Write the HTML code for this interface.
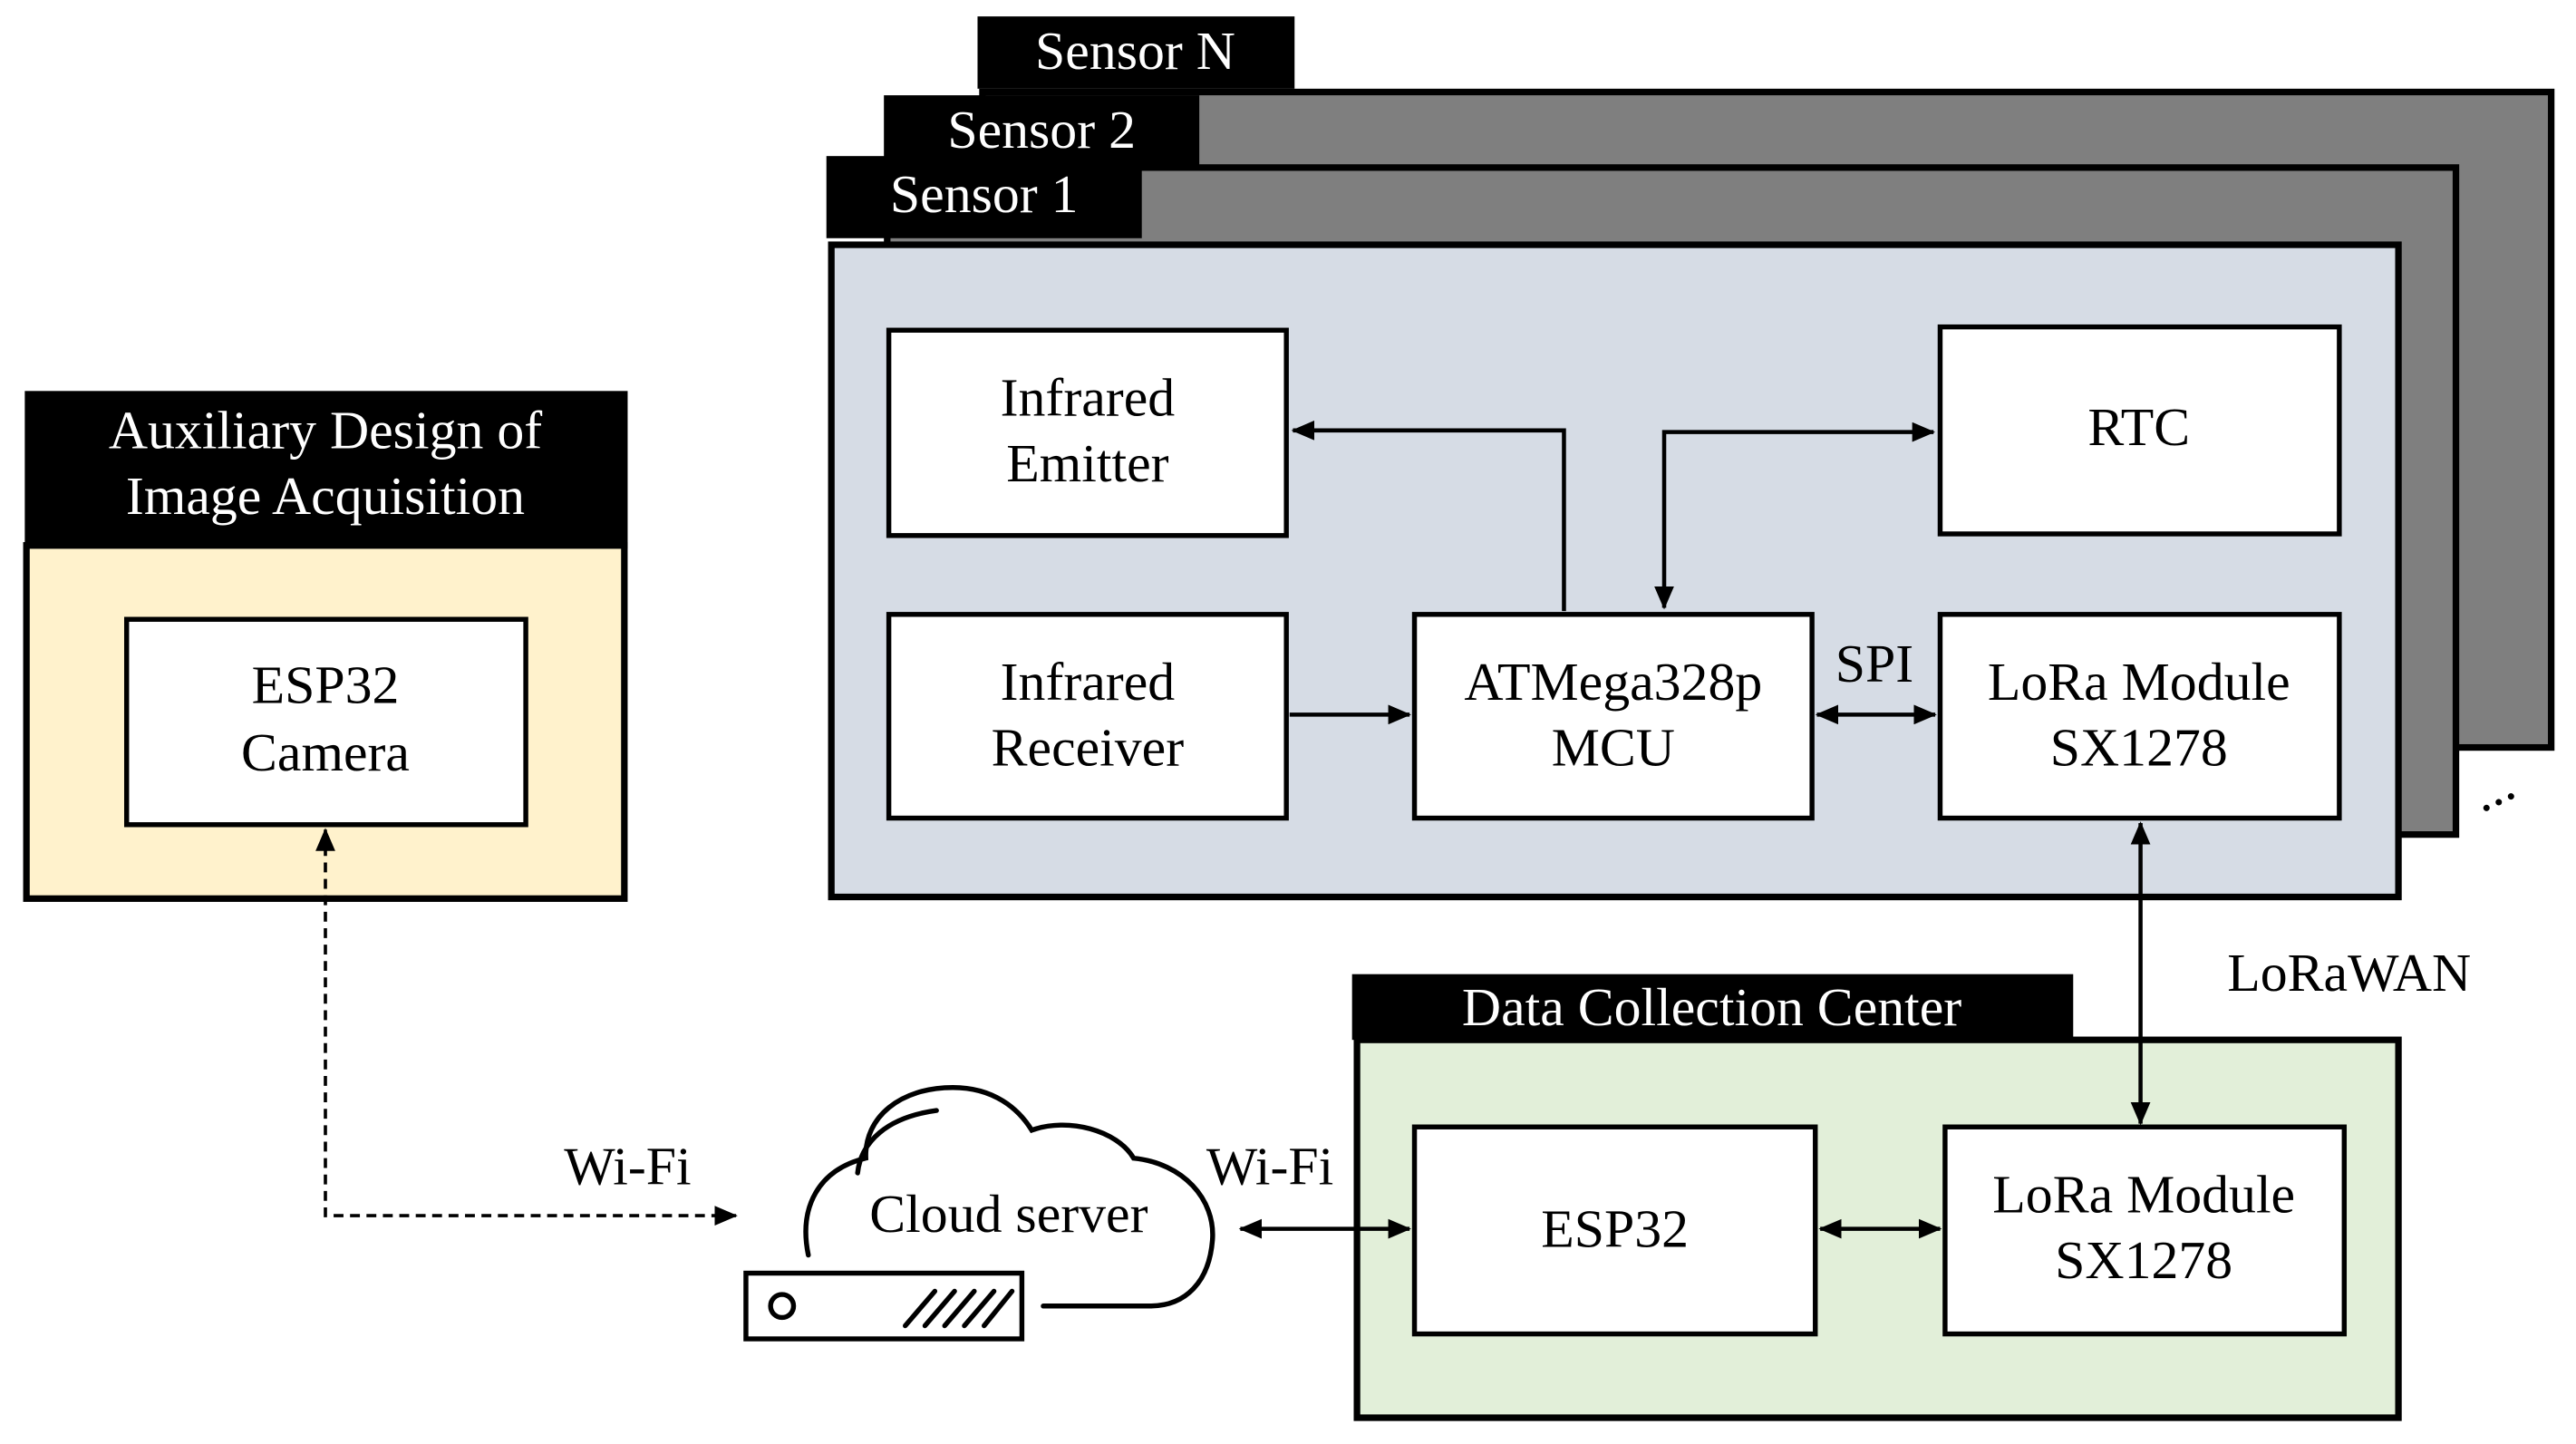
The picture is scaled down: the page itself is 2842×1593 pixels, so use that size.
<!DOCTYPE html>
<html><head><meta charset="utf-8"><style>
html,body{margin:0;padding:0;background:#fff;}
svg{display:block;}
text{font-family:"Liberation Serif",serif;font-size:33px;}
</style></head><body>
<svg width="2842" height="1593" viewBox="0 0 1568 879" xmlns="http://www.w3.org/2000/svg">
<defs>
<marker id="b" markerWidth="14" markerHeight="12" refX="13" refY="6" orient="auto-start-reverse" markerUnits="userSpaceOnUse"><path d="M0,0 L14,6 L0,12 z" fill="#000"/></marker>
</defs>
<!-- Sensor N -->
<rect x="598" y="56" width="955" height="399" fill="#7f7f7f" stroke="#000" stroke-width="4"/>
<rect x="595" y="10" width="193" height="44" fill="#000"/>
<text x="691" y="42" fill="#fff" text-anchor="middle">Sensor N</text>
<!-- Sensor 2 -->
<rect x="540" y="102" width="955" height="406" fill="#7f7f7f" stroke="#000" stroke-width="4"/>
<rect x="538" y="58" width="192" height="44" fill="#000"/>
<text x="634" y="90" fill="#fff" text-anchor="middle">Sensor 2</text>
<text x="1520" y="490" font-size="30" text-anchor="middle" transform="rotate(-25 1520 486)">...</text>
<!-- Sensor 1 -->
<rect x="506" y="149" width="954" height="397" fill="#d6dce5" stroke="#000" stroke-width="4"/>
<rect x="503" y="95" width="192" height="50" fill="#000"/>
<text x="599" y="129" fill="#fff" text-anchor="middle">Sensor 1</text>
<g fill="#fff" stroke="#000" stroke-width="3">
<rect x="541" y="201" width="242" height="125"/>
<rect x="1181" y="199" width="243" height="126"/>
<rect x="541" y="374" width="242" height="124"/>
<rect x="861" y="374" width="242" height="124"/>
<rect x="1181" y="374" width="243" height="124"/>
</g>
<text x="662" y="253" text-anchor="middle">Infrared</text>
<text x="662" y="293" text-anchor="middle">Emitter</text>
<text x="1302" y="271" text-anchor="middle">RTC</text>
<text x="662" y="426" text-anchor="middle">Infrared</text>
<text x="662" y="466" text-anchor="middle">Receiver</text>
<text x="982" y="426" text-anchor="middle">ATMega328p</text>
<text x="982" y="466" text-anchor="middle">MCU</text>
<text x="1302" y="426" text-anchor="middle">LoRa Module</text>
<text x="1302" y="466" text-anchor="middle">SX1278</text>
<g stroke="#000" stroke-width="2.5" fill="none">
<polyline points="952,372 952,262 787,262" marker-end="url(#b)"/>
<polyline points="1013,370 1013,263 1177,263" marker-start="url(#b)" marker-end="url(#b)"/>
<line x1="785" y1="435" x2="858" y2="435" marker-end="url(#b)"/>
<line x1="1106" y1="435" x2="1178" y2="435" marker-start="url(#b)" marker-end="url(#b)"/>
</g>
<text x="1141" y="415" text-anchor="middle">SPI</text>
<text x="1430" y="603" text-anchor="middle">LoRaWAN</text>
<!-- Data collection -->
<rect x="826" y="633" width="634" height="230" fill="#e2efd9" stroke="#000" stroke-width="4"/>
<rect x="823" y="593" width="439" height="40" fill="#000"/>
<text x="1042" y="624" fill="#fff" text-anchor="middle">Data Collection Center</text>
<g fill="#fff" stroke="#000" stroke-width="3">
<rect x="861" y="686" width="244" height="126"/>
<rect x="1184" y="686" width="243" height="126"/>
</g>
<text x="983" y="759" text-anchor="middle">ESP32</text>
<text x="1305" y="738" text-anchor="middle">LoRa Module</text>
<text x="1305" y="778" text-anchor="middle">SX1278</text>
<g stroke="#000" stroke-width="2.5" fill="none">
<line x1="1303" y1="501" x2="1303" y2="684" marker-start="url(#b)" marker-end="url(#b)"/>
<line x1="1108" y1="748" x2="1181" y2="748" marker-start="url(#b)" marker-end="url(#b)"/>
<line x1="755" y1="748" x2="858" y2="748" marker-start="url(#b)" marker-end="url(#b)"/>
</g>
<!-- Auxiliary -->
<rect x="16" y="332" width="364" height="215" fill="#fff2cc" stroke="#000" stroke-width="4"/>
<rect x="15" y="238" width="367" height="96" fill="#000"/>
<text x="198" y="273" fill="#fff" text-anchor="middle">Auxiliary Design of</text>
<text x="198" y="313" fill="#fff" text-anchor="middle">Image Acquisition</text>
<rect x="77" y="377" width="243" height="125" fill="#fff" stroke="#000" stroke-width="3"/>
<text x="198" y="428" text-anchor="middle">ESP32</text>
<text x="198" y="469" text-anchor="middle">Camera</text>
<polyline points="198,505 198,740 448,740" fill="none" stroke="#000" stroke-width="2" stroke-dasharray="6,4" marker-start="url(#b)" marker-end="url(#b)"/>
<text x="382" y="721" text-anchor="middle">Wi-Fi</text>
<text x="773" y="721" text-anchor="middle">Wi-Fi</text>
<!-- Cloud -->
<g stroke="#000" stroke-width="3" fill="none" stroke-linecap="round">
<path d="M492,764 C486,735 498,712 527,705 C526,680 548,662 580,662 C605,662 620,675 628,688 C650,680 680,688 690,705 C720,708 740,730 738,755 C736,780 722,795 700,795 L635,795"/>
<path d="M522,714 C524,695 540,680 570,676"/>
<rect x="454" y="775" width="168" height="40"/>
<circle cx="476" cy="795" r="7"/>
<path d="M551,807 L569,786 M563,807 L581,786 M575,807 L593,786 M587,807 L605,786 M599,807 L616,786"/>
</g>
<text x="614" y="750" text-anchor="middle">Cloud server</text>
</svg>
</body></html>
